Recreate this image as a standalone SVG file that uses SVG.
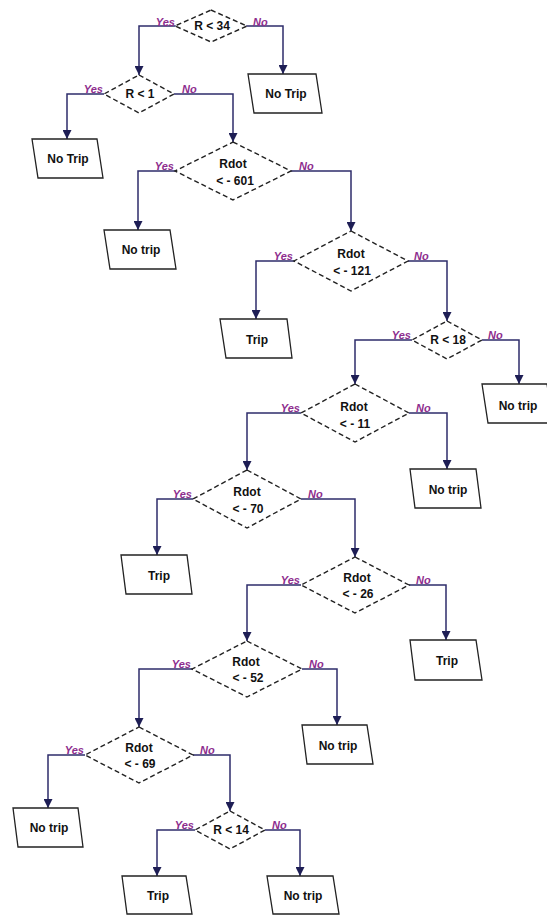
<svg xmlns="http://www.w3.org/2000/svg" width="547" height="915" viewBox="0 0 547 915">
<style>
.dia{fill:#fff;stroke:#222;stroke-width:1.4;stroke-dasharray:5 3}
.box{fill:#fff;stroke:#222;stroke-width:1.3}
.t{font-family:"Liberation Sans",Arial,sans-serif;font-weight:bold;font-size:12px;fill:#111;text-anchor:middle}
.yes{font-family:"Liberation Sans",Arial,sans-serif;font-weight:bold;font-style:italic;font-size:11px;fill:#8e2d8e;text-anchor:end}
.no{font-family:"Liberation Sans",Arial,sans-serif;font-weight:bold;font-style:italic;font-size:11px;fill:#8e2d8e}
.c{fill:none;stroke:#2e2d6b;stroke-width:1.5;marker-end:url(#ah)}
</style>
<defs>
<marker id="ah" markerWidth="9" markerHeight="9" refX="9" refY="4.5" orient="auto" markerUnits="userSpaceOnUse">
<path d="M0,0 L9,4.5 L0,9 Z" fill="#1e1e55"/>
</marker>
</defs>
<rect width="547" height="915" fill="#fff"/>
<g id="connectors">
<path class="c" d="M176,26 H139 V75"/>
<path class="c" d="M246,26 H283 V74"/>
<path class="c" d="M104,94 H67 V139"/>
<path class="c" d="M174,94 H233 V142"/>
<path class="c" d="M175,171 H138 V230"/>
<path class="c" d="M291,171 H351 V231"/>
<path class="c" d="M294,261 H256 V319"/>
<path class="c" d="M408,261 H447 V321"/>
<path class="c" d="M412,340 H355 V384"/>
<path class="c" d="M482,340 H519 V384"/>
<path class="c" d="M301,413 H247 V470"/>
<path class="c" d="M409,413 H447 V469"/>
<path class="c" d="M193,499 H157 V555"/>
<path class="c" d="M301,499 H355 V557"/>
<path class="c" d="M301,585 H247 V641"/>
<path class="c" d="M409,585 H446 V640"/>
<path class="c" d="M192,669 H139 V727"/>
<path class="c" d="M302,669 H337 V725"/>
<path class="c" d="M85,755 H48 V808"/>
<path class="c" d="M193,755 H230 V811"/>
<path class="c" d="M195,830 H157 V876"/>
<path class="c" d="M265,830 H300 V876"/>
<text class="yes" x="175" y="26">Yes</text><text class="no" x="253" y="26">No</text>
<text class="yes" x="103" y="93">Yes</text><text class="no" x="182" y="93">No</text>
<text class="yes" x="174" y="170">Yes</text><text class="no" x="299" y="170">No</text>
<text class="yes" x="293" y="260">Yes</text><text class="no" x="414" y="260">No</text>
<text class="yes" x="411" y="339">Yes</text><text class="no" x="488" y="339">No</text>
<text class="yes" x="300" y="412">Yes</text><text class="no" x="416" y="412">No</text>
<text class="yes" x="192" y="498">Yes</text><text class="no" x="308" y="498">No</text>
<text class="yes" x="300" y="584">Yes</text><text class="no" x="416" y="584">No</text>
<text class="yes" x="191" y="668">Yes</text><text class="no" x="309" y="668">No</text>
<text class="yes" x="84" y="754">Yes</text><text class="no" x="200" y="754">No</text>
<text class="yes" x="194" y="829">Yes</text><text class="no" x="272" y="829">No</text>
</g>
<g id="d1"><polygon class="dia" points="211,10 247,26 211,42 175,26"/><text class="t" x="212" y="30">R &lt; 34</text></g>
<g id="d2"><polygon class="dia" points="139,75 174,94 139,113 104,94"/><text class="t" x="140" y="98">R &lt; 1</text></g>
<g id="d3"><polygon class="dia" points="233,142 291,171 233,200 175,171"/><text class="t" x="233" y="168">Rdot</text><text class="t" x="235" y="185">&lt; - 601</text></g>
<g id="d4"><polygon class="dia" points="351,231 408,261 351,291 294,261"/><text class="t" x="351" y="258">Rdot</text><text class="t" x="352" y="275">&lt; - 121</text></g>
<g id="d5"><polygon class="dia" points="447,321 482,340 447,359 412,340"/><text class="t" x="448" y="344">R &lt; 18</text></g>
<g id="d6"><polygon class="dia" points="355,384 409,413 355,442 301,413"/><text class="t" x="354" y="411">Rdot</text><text class="t" x="355" y="428">&lt; - 11</text></g>
<g id="d7"><polygon class="dia" points="247,470 301,499 247,528 193,499"/><text class="t" x="247" y="496">Rdot</text><text class="t" x="248" y="513">&lt; - 70</text></g>
<g id="d8"><polygon class="dia" points="355,557 409,585 355,613 301,585"/><text class="t" x="357" y="582">Rdot</text><text class="t" x="358" y="598">&lt; - 26</text></g>
<g id="d9"><polygon class="dia" points="247,641 302,669 247,697 192,669"/><text class="t" x="246" y="666">Rdot</text><text class="t" x="248" y="682">&lt; - 52</text></g>
<g id="d10"><polygon class="dia" points="139,727 193,755 139,783 85,755"/><text class="t" x="139" y="752">Rdot</text><text class="t" x="140" y="768">&lt; - 69</text></g>
<g id="d11"><polygon class="dia" points="230,811 265,830 230,849 195,830"/><text class="t" x="231" y="834">R &lt; 14</text></g>
<g id="b1"><polygon class="box" points="248,74 316,74 322,113 254,113"/><text class="t" x="286" y="98">No Trip</text></g>
<g id="b2"><polygon class="box" points="32,139 97,139 103,178 38,178"/><text class="t" x="68" y="163">No Trip</text></g>
<g id="b3"><polygon class="box" points="104,230 170,230 176,269 110,269"/><text class="t" x="141" y="254">No trip</text></g>
<g id="b4"><polygon class="box" points="220,319 287,319 292,358 226,358"/><text class="t" x="257" y="344">Trip</text></g>
<g id="b5"><polygon class="box" points="482,384 547,384 553,423 488,423"/><text class="t" x="518" y="410">No trip</text></g>
<g id="b6"><polygon class="box" points="410,469 476,469 481,508 415,508"/><text class="t" x="448" y="494">No trip</text></g>
<g id="b7"><polygon class="box" points="121,555 187,555 192,594 126,594"/><text class="t" x="159" y="580">Trip</text></g>
<g id="b8"><polygon class="box" points="410,640 476,640 482,680 415,680"/><text class="t" x="447" y="665">Trip</text></g>
<g id="b9"><polygon class="box" points="302,725 367,725 373,764 307,764"/><text class="t" x="338" y="750">No trip</text></g>
<g id="b10"><polygon class="box" points="13,808 78,808 83,847 18,847"/><text class="t" x="49" y="832">No trip</text></g>
<g id="b11"><polygon class="box" points="122,876 186,876 192,914 127,914"/><text class="t" x="158" y="900">Trip</text></g>
<g id="b12"><polygon class="box" points="267,876 333,876 339,914 273,914"/><text class="t" x="303" y="900">No trip</text></g>
</svg>
